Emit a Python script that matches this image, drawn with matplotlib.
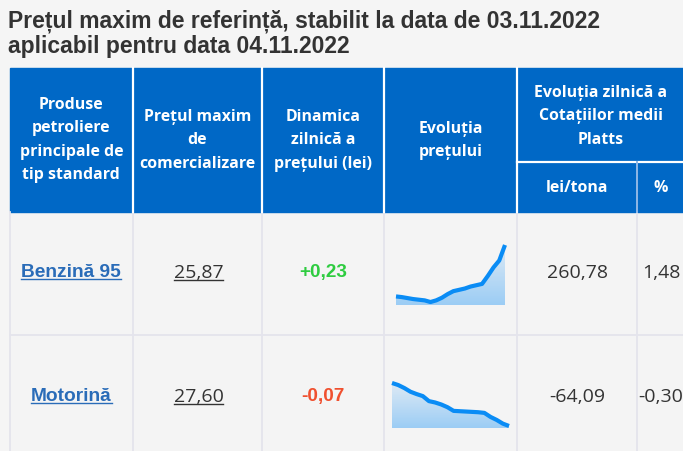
import matplotlib.pyplot as plt
import numpy as np
from matplotlib.patches import Rectangle, Polygon

# data
title_lines = ["Prețul maxim de referință, stabilit la data de 03.11.2022",
               "aplicabil pentru data 04.11.2022"]
products = ["Benzină 95", "Motorină"]
max_price = ["25,87", "27,60"]
daily_change = ["+0,23", "-0,07"]
platts_lei = ["260,78", "-64,09"]
platts_pct = ["1,48", "-0,30"]
# price evolution (relative)
evol_benzina = [26, 24, 21, 18, 16, 14, 9, 14, 22, 33, 42, 46, 50, 56, 60, 64, 88, 114, 135, 182]
evol_motorina = [134, 128, 119, 108, 101, 95, 80, 76, 70, 62, 51, 50, 49, 48, 47, 45, 33, 24, 13, 6]

W, H = 683, 452
BG = "#f5f5f5"
BLUE = "#0068c6"
GRID = "#e4e4ec"
LINE = "#0a8cf5"

fig = plt.figure(figsize=(W / 100, H / 100), dpi=100, facecolor=BG)
ax = fig.add_axes([0, 0, 1, 1])
ax.set_xlim(0, W)
ax.set_ylim(H, 0)
ax.axis("off")

# title
ax.text(8, 21, title_lines[0], fontsize=16.5, fontweight="bold", color="#333333",
        family="Liberation Sans", va="center", ha="left")
ax.text(8, 47, title_lines[1], fontsize=16.5, fontweight="bold", color="#333333",
        family="Liberation Sans", va="center", ha="left")

# column edges
cols = [9.5, 133, 262, 384, 517, 637, 700]
top, head_bot, sub_y = 69, 213, 163
row_edges = [213, 336, 460]

# header
ax.add_patch(Rectangle((cols[0], top), W - cols[0], head_bot - top, color=BLUE, zorder=1))
for x in cols[1:5]:
    ax.plot([x, x], [top, head_bot], color="white", lw=1.6, zorder=2)
ax.plot([cols[4], W], [sub_y, sub_y], color="white", lw=1.6, zorder=2)
ax.plot([cols[5], cols[5]], [sub_y, head_bot], color="#8fb8e6", lw=1.4, zorder=2)

hfont = dict(family="Open Sans", fontweight="bold", fontsize=11.4, color="white",
             ha="center", va="center", zorder=3)
lh = 23.3
headers = [
    (["Produse", "petroliere", "principale de", "tip standard"], 105),
    (["Prețul maxim", "de", "comercializare"], 117),
    (["Dinamica", "zilnică a", "prețului (lei)"], 117),
    (["Evoluția", "prețului"], 129),
]
for i, (lines, y0) in enumerate(headers):
    cx = (cols[i] + cols[i + 1]) / 2
    for j, s in enumerate(lines):
        ax.text(cx, y0 + j * lh, s, **hfont)
cx5 = (cols[4] + W) / 2
for j, s in enumerate(["Evoluția zilnică a", "Cotațiilor medii", "Platts"]):
    ax.text(cx5 + 1, 93 + j * lh, s, **hfont)
ax.text((cols[4] + cols[5]) / 2, 188, "lei/tona", **hfont)
ax.text((cols[5] + W) / 2 + 1, 188, "%", **hfont)

# body grid
ax.add_patch(Rectangle((cols[0], head_bot), W - cols[0], H - head_bot, color="#f4f4f4", zorder=0.5))
for x in cols[:6]:
    ax.plot([x, x], [head_bot, H], color=GRID, lw=1.3, zorder=1)
ax.plot([cols[0], W], [row_edges[1], row_edges[1]], color=GRID, lw=1.3, zorder=1)

fig.canvas.draw()
renderer = fig.canvas.get_renderer()


def underline(t, color, dy):
    bb = t.get_window_extent(renderer)
    x0, x1 = bb.x0, bb.x1
    y = H - bb.y0 + dy
    ax.plot([x0, x1], [y, y], color=color, lw=1.0, zorder=3)


row_cy = [273, 397]
for r in range(2):
    cy = row_cy[r]
    t = ax.text((cols[0] + cols[1]) / 2, cy, products[r], family="Liberation Sans",
                fontweight="bold", fontsize=13.8, color="#2a6cb8", ha="center", va="center")
    underline(t, "#2a6cb8", -1.5)
    t = ax.text((cols[1] + cols[2]) / 2 + 1, cy, max_price[r], family="Open Sans",
                fontsize=14, color="#333333", ha="center", va="center")
    underline(t, "#333333", -1.0)
    ax.text((cols[2] + cols[3]) / 2, cy, daily_change[r], family="Liberation Sans",
            fontweight="bold", fontsize=13.7,
            color="#2ecc40" if daily_change[r].startswith("+") else "#f0502f",
            ha="center", va="center")
    ax.text((cols[4] + cols[5]) / 2, cy, platts_lei[r], family="Open Sans",
            fontsize=14, color="#333333", ha="center", va="center")
    ax.text((cols[5] + W) / 2 + 1, cy, platts_pct[r], family="Open Sans",
            fontsize=14, color="#333333", ha="center", va="center")

# sparklines
spark_boxes = [(396, 505, 246, 306), (392, 509, 384, 429)]
for vals, (x0, x1, y0, y1) in zip([evol_benzina, evol_motorina], spark_boxes):
    sax = fig.add_axes([x0 / W, 1 - y1 / H, (x1 - x0) / W, (y1 - y0) / H])
    sax.set_facecolor("none")
    sax.axis("off")
    xs = np.arange(len(vals))
    v = np.array(vals, dtype=float)
    sax.set_xlim(0, len(vals) - 1)
    sax.set_ylim(0, v.max())
    grad = np.linspace(0.38, 0.10, 100).reshape(-1, 1)
    img = np.zeros((100, 1, 4))
    img[..., 0] = 0.04
    img[..., 1] = 0.55
    img[..., 2] = 0.96
    img[..., 3] = grad
    im = sax.imshow(img, extent=[0, len(vals) - 1, v.max(), 0], aspect="auto",
                    origin="upper", zorder=1)
    poly = Polygon(np.column_stack([np.r_[xs, xs[-1], 0], np.r_[v, 0, 0]]),
                   closed=True, transform=sax.transData, facecolor="none", edgecolor="none")
    sax.add_patch(poly)
    im.set_clip_path(poly)
    sax.set_ylim(0, v.max())
    sax.plot(xs, v, color=LINE, lw=3, solid_capstyle="butt", zorder=2, clip_on=False)

fig.savefig("out.png", dpi=100, facecolor=BG)
